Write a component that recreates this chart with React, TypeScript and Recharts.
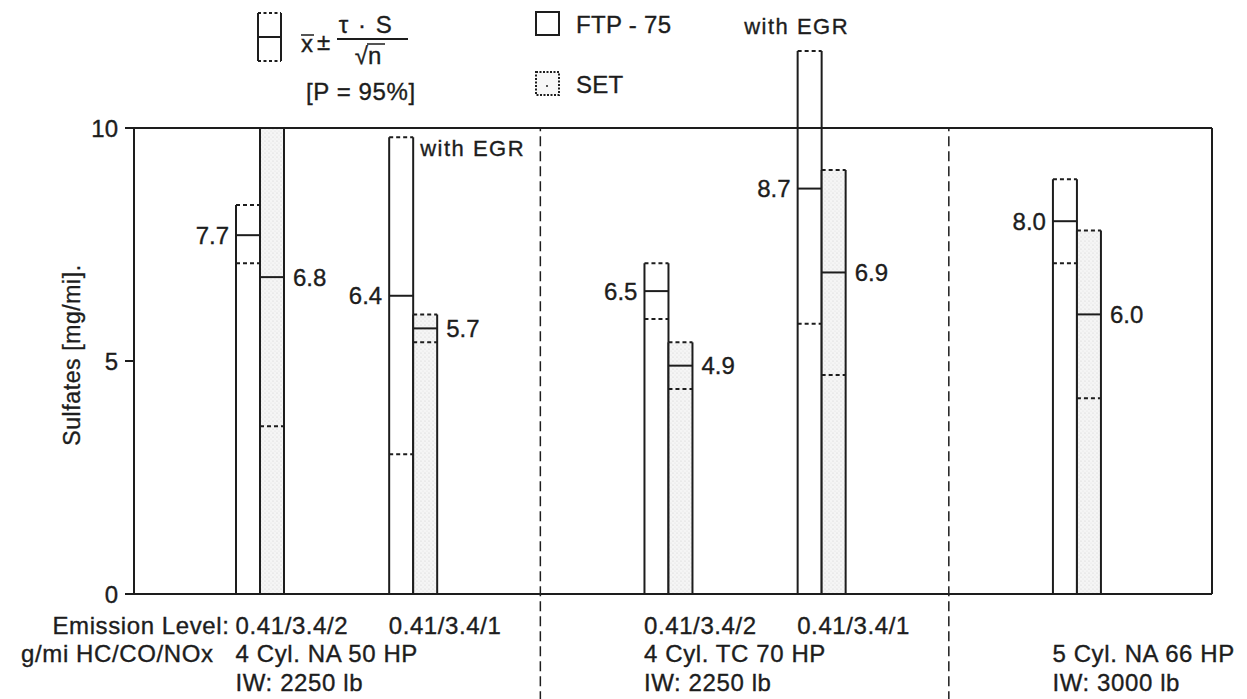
import React from "react";
import {
  ComposedChart,
  Bar,
  XAxis,
  YAxis,
  ReferenceLine,
  Legend,
  LabelList,
} from "recharts";

const FONT = '"Liberation Sans", Arial, Helvetica, sans-serif';
const INK = "#1d1d1d";
const BAR_SIZE = 24;
// a hairline outline gives the lettering the weight of the printed figure
const TEXT_WEIGHT = { stroke: INK, strokeWidth: 0.35 };

// Test cases (vehicle / emission level)
const testCases = ["NA50-2", "NA50-1", "TC70-2", "TC70-1", "NA66"];
const emissionLevels = ["0.41/3.4/2", "0.41/3.4/1", "0.41/3.4/2", "0.41/3.4/1", ""];
const engineLabels = ["4 Cyl. NA 50 HP", "", "4 Cyl. TC 70 HP", "", "5 Cyl. NA 66 HP"];
const inertiaLabels = ["IW: 2250 lb", "", "IW: 2250 lb", "", "IW: 3000 lb"];
const withEgr = [false, true, false, true, false];

// FTP-75 sulfates, mg/mi: mean and 95% confidence bounds
const ftpMean = [7.7, 6.4, 6.5, 8.7, 8.0];
const ftpLower = [7.1, 3.0, 5.9, 5.8, 7.1];
const ftpUpper = [8.35, 9.8, 7.1, 11.65, 8.9];

// SET sulfates, mg/mi: mean and 95% confidence bounds
const setMean = [6.8, 5.7, 4.9, 6.9, 6.0];
const setLower = [3.6, 5.4, 4.4, 4.7, 4.2];
const setUpper = [10.0, 6.0, 5.4, 9.1, 7.8];

const yTicks = [0, 5, 10];
const Y_MAX = 10;

// Layout: empty bands placed ahead of each case, and where a new engine starts
const emptyBandsBefore = [0, 2, 4, 2, 4];
const engineBreakBefore = [false, false, true, false, true];
// separators run from the top of the frame down past the labels (axis units)
const SEPARATOR_BOTTOM = -2.3;

type Row = {
  key: string;
  idx?: number;
  ftp?: number;
  ftpLo?: number;
  ftpHi?: number;
  set?: number;
  setLo?: number;
  setHi?: number;
  egr?: boolean;
};

const rows: Row[] = [];
const separatorKeys: string[] = [];
testCases.forEach((name, i) => {
  const pads = emptyBandsBefore[i];
  for (let p = 0; p < pads; p++) {
    const key = `${name}:${p}`;
    rows.push({ key });
    if (engineBreakBefore[i] && p === pads / 2 - 1) separatorKeys.push(key);
  }
  rows.push({
    key: name,
    idx: i,
    ftp: ftpMean[i],
    ftpLo: ftpLower[i],
    ftpHi: ftpUpper[i],
    set: setMean[i],
    setLo: setLower[i],
    setHi: setUpper[i],
    egr: withEgr[i],
  });
});
const rowByKey = new Map(rows.map((r) => [r.key, r]));

// Bar drawn as an interval box: solid mean line, dashed confidence bounds
function intervalShape(kind: "ftp" | "set") {
  return (props: any) => {
    const { x, y, width, height, payload } = props;
    const mean = payload ? payload[kind] : undefined;
    if (mean == null || !(height > 0)) return <g />;
    const lo = payload[`${kind}Lo`];
    const hi = payload[`${kind}Hi`];
    const base = y + height;
    const unit = height / mean;
    const yHi = base - hi * unit;
    const yLo = base - lo * unit;
    const yFrame = base - Y_MAX * unit;
    const right = x + width;
    const isSet = kind === "set";
    return (
      <g>
        {isSet && (
          <defs>
            <pattern id="set-stipple" width={4} height={4} patternUnits="userSpaceOnUse">
              <rect width={4} height={4} fill="#f5f5f5" />
              <circle cx={1} cy={1} r={0.6} fill="#cfcfcf" />
              <circle cx={3} cy={3} r={0.5} fill="#dddddd" />
            </pattern>
          </defs>
        )}
        <rect x={x} y={yHi} width={width} height={base - yHi} fill={isSet ? "url(#set-stipple)" : "#ffffff"} />
        <g stroke={INK} strokeWidth={2}>
          <line x1={x} y1={yHi} x2={x} y2={base} />
          <line x1={right} y1={yHi} x2={right} y2={base} />
          <line x1={x} y1={y} x2={right} y2={y} />
          <line x1={x} y1={yHi} x2={right} y2={yHi} strokeDasharray="4 3" />
          <line x1={x} y1={yLo} x2={right} y2={yLo} strokeDasharray="4 3" />
        </g>
        {kind === "ftp" && payload.egr && (
          hi > Y_MAX ? (
            <text x={x + width / 2 - 13} y={yHi - 17} textAnchor="middle" fill={INK} {...TEXT_WEIGHT}
              fontFamily={FONT} fontSize={22} letterSpacing={1.5}>with EGR</text>
          ) : (
            <g>
              <rect x={right + 1.5} y={yFrame - 3} width={120} height={6} fill="#ffffff" />
              <text x={right + 7} y={yHi + 19} fill={INK} {...TEXT_WEIGHT} fontFamily={FONT} fontSize={22}
                letterSpacing={1.5}>with EGR</text>
            </g>
          )
        )}
      </g>
    );
  };
}

const ftpShape = intervalShape("ftp");
const setShape = intervalShape("set");

const ftpValueLabel = (p: any) => {
  const { x, y, value } = p;
  if (value == null) return null;
  return (
    <text x={x - 7} y={y + 8.5} textAnchor="end" fill={INK} {...TEXT_WEIGHT} fontFamily={FONT} fontSize={24}>
      {Number(value).toFixed(1)}
    </text>
  );
};

const setValueLabel = (p: any) => {
  const { x, y, width, value } = p;
  if (value == null) return null;
  return (
    <text x={x + width + 9} y={y + 8.5} textAnchor="start" fill={INK} {...TEXT_WEIGHT} fontFamily={FONT} fontSize={24}>
      {Number(value).toFixed(1)}
    </text>
  );
};

// Category labels under the axis: emission level, engine, inertia weight
const CaseTick = (props: any) => {
  const { x, y, payload } = props;
  const row = rowByKey.get(payload?.value);
  if (!row || row.idx == null) return <g />;
  const i = row.idx;
  const left = x - BAR_SIZE;
  const r1 = y + 40;
  const r2 = y + 68;
  const r3 = y + 97;
  return (
    <g fill={INK} {...TEXT_WEIGHT} fontFamily={FONT} fontSize={24} letterSpacing={0.6}>
      {i === 0 && (
        <>
          <text x={left - 6} y={r1} textAnchor="end">Emission Level:</text>
          <text x={left - 22} y={r2} textAnchor="end">g/mi HC/CO/NOx</text>
        </>
      )}
      {emissionLevels[i] && <text x={left} y={r1}>{emissionLevels[i]}</text>}
      {engineLabels[i] && <text x={left} y={r2}>{engineLabels[i]}</text>}
      {inertiaLabels[i] && <text x={left} y={r3}>{inertiaLabels[i]}</text>}
    </g>
  );
};

const YLabel = (props: any) => {
  const vb = props.viewBox || { x: 0, y: 0, width: 0, height: 0 };
  const cx = vb.x + 72;
  const cy = vb.y + vb.height / 2 - 6;
  return (
    <text x={cx} y={cy} transform={`rotate(-90 ${cx} ${cy})`} textAnchor="middle" dominantBaseline="central"
      fill={INK} {...TEXT_WEIGHT} fontFamily={FONT} fontSize={23} letterSpacing={0.6}>
      Sulfates [mg/mi].
    </text>
  );
};

// Key: interval glyph with its formula, plus one box per test cycle
const renderLegend = (props: any) => {
  const items: string[] = (props.payload ?? []).map((p: any) => String(p.value));
  return (
    <svg width={1247} height={115} style={{ display: "block" }}>
      <g stroke={INK} strokeWidth={2} fill="none">
        <line x1={258} y1={13} x2={258} y2={61} />
        <line x1={281} y1={13} x2={281} y2={61} />
        <line x1={258} y1={37} x2={281} y2={37} />
        <line x1={258} y1={13} x2={281} y2={13} strokeDasharray="3 2.5" />
        <line x1={258} y1={61} x2={281} y2={61} strokeDasharray="3 2.5" />
      </g>
      <g fill={INK} {...TEXT_WEIGHT} fontFamily={FONT} fontSize={24}>
        <text x={301} y={52}>x</text>
        <line x1={301} y1={35} x2={314} y2={35} stroke={INK} strokeWidth={1.5} />
        <text x={317} y={50}>±</text>
        <text x={366} y={33} textAnchor="middle" letterSpacing={1.5}>τ · S</text>
        <line x1={337} y1={39} x2={408} y2={39} stroke={INK} strokeWidth={2} />
        <text x={368} y={64} textAnchor="middle">√n</text>
        <line x1={367} y1={44} x2={385} y2={44} stroke={INK} strokeWidth={1.5} />
        <text x={306} y={100} letterSpacing={0.6}>[P = 95%]</text>
      </g>
      {items.map((name, i) => {
        const top = 12 + i * 60;
        const dotted = i === 1;
        return (
          <g key={name}>
            <rect x={536} y={top} width={23} height={23} fill={dotted ? "#f7f7f7" : "#ffffff"}
              stroke={INK} strokeWidth={2} strokeDasharray={dotted ? "2 1.5" : undefined} />
            {dotted && <circle cx={547} cy={top + 14} r={1} fill={INK} />}
            <text x={576} y={top + 21} fill={INK} {...TEXT_WEIGHT} fontFamily={FONT} fontSize={24}
              letterSpacing={0.3}>
              {name}
            </text>
          </g>
        );
      })}
    </svg>
  );
};

export default function App() {
  return (
    <div style={{ position: "absolute", left: 0, top: 0, width: 1247, height: 699, background: "#ffffff" }}>
      <ComposedChart
        width={1247}
        height={699}
        data={rows}
        margin={{ top: 128, right: 34, bottom: 0, left: 0 }}
        barGap={0}
        barSize={BAR_SIZE}
      >
        <XAxis
          dataKey="key"
          type="category"
          interval={0}
          height={105}
          padding={{ left: 100, right: 110 }}
          axisLine={{ stroke: INK, strokeWidth: 2 }}
          tickLine={false}
          tickSize={0}
          tickMargin={0}
          tick={(p: any) => <CaseTick {...p} />}
        />
        <YAxis
          domain={[0, Y_MAX]}
          ticks={yTicks}
          width={134}
          axisLine={{ stroke: INK, strokeWidth: 2 }}
          tickLine={{ stroke: INK, strokeWidth: 2 }}
          tickSize={9}
          tickMargin={7}
          tick={{ fill: INK, fontSize: 24, fontFamily: FONT, ...TEXT_WEIGHT }}
          label={<YLabel />}
        />
        <YAxis
          yAxisId="frame"
          orientation="right"
          domain={[0, Y_MAX]}
          width={1}
          tick={false}
          tickLine={false}
          axisLine={{ stroke: INK, strokeWidth: 2 }}
        />
        <ReferenceLine y={Y_MAX} stroke={INK} strokeWidth={2} />
        {separatorKeys.map((k) => (
          <ReferenceLine
            key={k}
            segment={[{ x: k, y: SEPARATOR_BOTTOM }, { x: k, y: Y_MAX }]}
            position="end"
            ifOverflow="visible"
            stroke={INK}
            strokeWidth={1.5}
            strokeDasharray="10 5"
          />
        ))}
        <Legend
          layout="horizontal"
          verticalAlign="middle"
          align="center"
          content={renderLegend}
          wrapperStyle={{ position: "absolute", left: 0, top: 0, width: 1247, height: 115, pointerEvents: "none" }}
        />
        <Bar dataKey="ftp" name="FTP - 75" isAnimationActive={false} shape={ftpShape}>
          <LabelList dataKey="ftp" content={ftpValueLabel} />
        </Bar>
        <Bar dataKey="set" name="SET" isAnimationActive={false} shape={setShape}>
          <LabelList dataKey="set" content={setValueLabel} />
        </Bar>
      </ComposedChart>
    </div>
  );
}
